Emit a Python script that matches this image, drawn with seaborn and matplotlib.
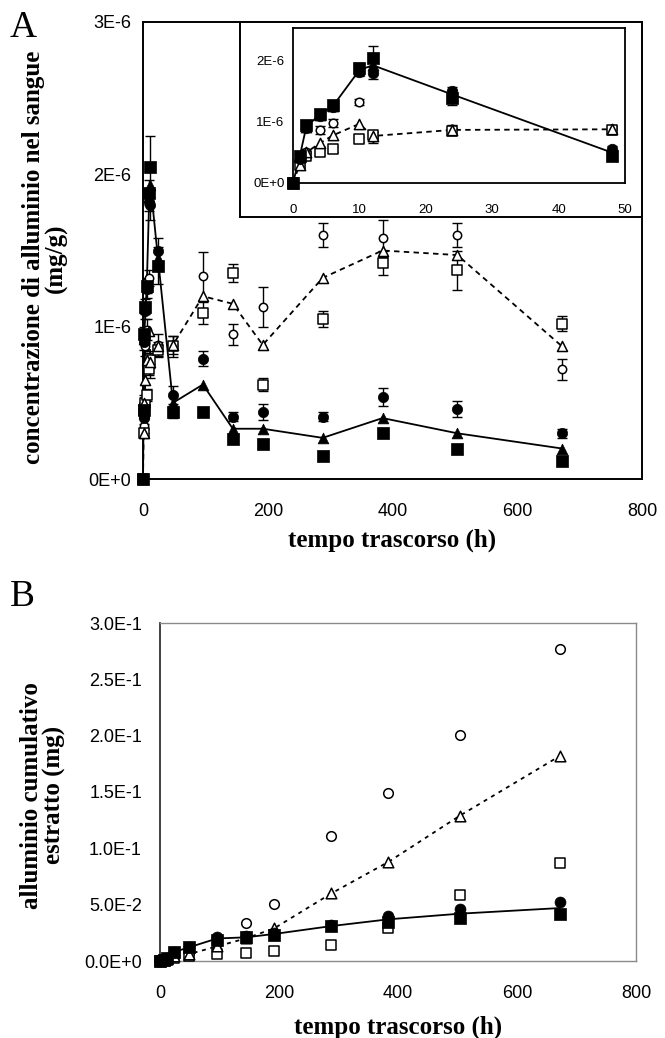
import matplotlib
matplotlib.use("Agg")
import matplotlib.pyplot as plt
import numpy as np
import seaborn as sns

# ---------------- data ----------------
# Panel A: blood aluminium concentration (values in units of 1E-6 mg/g)
time_A = [0, 1, 2, 4, 6, 10, 12, 24, 48, 96, 144, 192, 288, 384, 504, 672]
open_circle_A = [0, 0.35, 0.50, 0.87, 0.98, 1.32, 0.75, 0.88, 0.88, 1.33, 0.95, 1.13, 1.60, 1.58, 1.60, 0.72]
open_circle_A_err = [0.02, 0.05, 0.05, 0.06, 0.07, 0.05, 0.09, 0.07, 0.06, 0.16, 0.07, 0.13, 0.08, 0.12, 0.08, 0.07]
open_square_A = [0, 0.30, 0.45, 0.50, 0.55, 0.72, 0.78, 0.85, 0.87, 1.09, 1.35, 0.62, 1.05, 1.42, 1.37, 1.02]
open_square_A_err = [0.02, 0.03, 0.04, 0.04, 0.04, 0.04, 0.05, 0.05, 0.07, 0.07, 0.06, 0.04, 0.05, 0.08, 0.13, 0.05]
open_triangle_A = [0, 0.30, 0.50, 0.65, 0.78, 0.97, 0.77, 0.87, 0.88, 1.20, 1.15, 0.88, 1.32, 1.50, 1.47, 0.87]
filled_circle_A = [0, 0.40, 0.90, 1.10, 1.25, 1.82, 1.80, 1.50, 0.55, 0.79, 0.41, 0.44, 0.41, 0.54, 0.46, 0.30]
filled_circle_A_err = [0.02, 0.04, 0.05, 0.05, 0.06, 0.06, 0.10, 0.08, 0.06, 0.05, 0.03, 0.05, 0.03, 0.06, 0.05, 0.03]
filled_square_A = [0, 0.45, 0.95, 1.13, 1.27, 1.88, 2.05, 1.40, 0.44, 0.44, 0.26, 0.23, 0.15, 0.30, 0.20, 0.12]
filled_square_A_err = [0.02, 0.05, 0.05, 0.05, 0.05, 0.08, 0.20, 0.12, 0.04, 0.02, 0.02, 0.02, 0.02, 0.02, 0.02, 0.02]
filled_triangle_A = [0, 0.43, 0.92, 1.12, 1.26, 1.85, 1.93, 1.45, 0.50, 0.62, 0.33, 0.33, 0.27, 0.40, 0.30, 0.20]
unit_A = 1e-6

# Panel B: cumulative aluminium extracted (mg)
time_B = [0, 6, 12, 24, 48, 96, 144, 192, 288, 384, 504, 672]
open_circle_B = [0, 0.001, 0.002, 0.004, 0.007, 0.016, 0.034, 0.051, 0.111, 0.149, 0.201, 0.277]
open_triangle_B = [0, 0.001, 0.002, 0.004, 0.006, 0.013, 0.020, 0.029, 0.060, 0.088, 0.129, 0.182]
open_square_B = [0, 0.001, 0.001, 0.003, 0.004, 0.006, 0.007, 0.009, 0.014, 0.029, 0.059, 0.087]
filled_circle_B = [0, 0.001, 0.003, 0.008, 0.012, 0.021, 0.022, 0.025, 0.032, 0.040, 0.046, 0.052]
filled_square_B = [0, 0.001, 0.003, 0.008, 0.012, 0.019, 0.021, 0.023, 0.031, 0.035, 0.038, 0.042]
filled_triangle_B = [0, 0.001, 0.003, 0.008, 0.012, 0.020, 0.021, 0.024, 0.031, 0.037, 0.042, 0.047]

# ticks / labels
xticks_A = [0, 200, 400, 600, 800]
yticks_A = [0, 1e-6, 2e-6, 3e-6]
ytick_labels_A = ["0E+0", "1E-6", "2E-6", "3E-6"]
xticks_inset = [0, 10, 20, 30, 40, 50]
yticks_inset = [0, 1e-6, 2e-6]
ytick_labels_inset = ["0E+0", "1E-6", "2E-6"]
xticks_B = [0, 200, 400, 600, 800]
yticks_B = [0, 0.05, 0.10, 0.15, 0.20, 0.25, 0.30]
ytick_labels_B = ["0.0E+0", "5.0E-2", "1.0E-1", "1.5E-1", "2.0E-1", "2.5E-1", "3.0E-1"]

xlabel_text = "tempo trascorso (h)"
ylabel_A = "concentrazione di alluminio nel sangue\n(mg/g)"
ylabel_B = "alluminio cumulativo\nestratto (mg)"

# ---------------- style ----------------
sns.set_theme(style="white")
plt.rcParams["font.family"] = ["Liberation Sans", "DejaVu Sans"]
plt.rcParams["axes.edgecolor"] = "black"
plt.rcParams["xtick.color"] = "black"
plt.rcParams["ytick.color"] = "black"
plt.rcParams["text.color"] = "black"
plt.rcParams["axes.labelcolor"] = "black"

W, H = 665, 1038
fig = plt.figure(figsize=(W / 100, H / 100), dpi=100)
fig.patch.set_facecolor("white")


def fig_axes(x0, x1, ytop, ybot, **kw):
    return fig.add_axes([x0 / W, 1 - ybot / H, (x1 - x0) / W, (ybot - ytop) / H], **kw)


DASH = (0, (3.0, 2.4))


def draw_points(ax, t, y, marker, filled, s, err=None, scale=1.0, tmax=None, lw=1.1):
    t = np.asarray(t, float)
    y = np.asarray(y, float) * scale
    m = np.ones_like(t, bool) if tmax is None else (t <= tmax)
    if err is not None:
        e = np.asarray(err, float) * scale
        ax.errorbar(t[m], y[m], yerr=e[m], fmt="none", ecolor="black",
                    elinewidth=1.0, capsize=3.3, capthick=1.0, zorder=3, clip_on=False)
    sns.scatterplot(x=t[m], y=y[m], ax=ax, marker=marker, s=s,
                    color="black" if filled else "white", edgecolor="black",
                    linewidth=lw if not filled else 0.5, zorder=4, clip_on=False, legend=False)


def draw_line(ax, t, y, style, scale=1.0, tmax=None, lw=1.2):
    t = np.asarray(t, float)
    y = np.asarray(y, float) * scale
    m = np.ones_like(t, bool) if tmax is None else (t <= tmax)
    sns.lineplot(x=t[m], y=y[m], ax=ax, color="black", linewidth=lw, linestyle=style,
                 sort=False, legend=False, zorder=2, errorbar=None)


def panel_A_content(ax, tmax=None, big=1.0):
    draw_line(ax, time_A, open_triangle_A, DASH, unit_A, tmax, lw=1.3)
    draw_line(ax, time_A, filled_triangle_A, "-", unit_A, tmax, lw=1.3)
    draw_points(ax, time_A, open_circle_A, "o", False, 36 * big, open_circle_A_err, unit_A, tmax)
    draw_points(ax, time_A, open_square_A, "s", False, 48 * big, open_square_A_err, unit_A, tmax)
    draw_points(ax, time_A, open_triangle_A, "^", False, 52 * big, None, unit_A, tmax)
    draw_points(ax, time_A, filled_circle_A, "o", True, 55 * big, filled_circle_A_err, unit_A, tmax)
    draw_points(ax, time_A, filled_square_A, "s", True, 78 * big, filled_square_A_err, unit_A, tmax)
    draw_points(ax, time_A, filled_triangle_A, "^", True, 60 * big, None, unit_A, tmax)


# ---------------- Panel A ----------------
axA = fig_axes(143, 642, 22, 479)
panel_A_content(axA)
axA.set_xlim(0, 800)
axA.set_ylim(0, 3e-6)
axA.set_xticks(xticks_A)
axA.set_xticklabels([str(v) for v in xticks_A])
axA.set_yticks(yticks_A)
axA.set_yticklabels(ytick_labels_A)
for sp in axA.spines.values():
    sp.set_color("black")
    sp.set_linewidth(1.4)
axA.tick_params(axis="x", direction="inout", length=9, width=1.3, labelsize=13, pad=13)
axA.tick_params(axis="y", direction="inout", length=9, width=1.3, labelsize=13, pad=4)
axA.tick_params(top=False, right=False)
axA.set_xlabel(xlabel_text, fontsize=18, fontweight="bold", family="Liberation Serif", va="center")
axA.xaxis.set_label_coords(0.5, -0.134)
axA.set_ylabel(ylabel_A, fontsize=18, fontweight="bold", family="Liberation Serif",
               va="center", linespacing=0.95)
axA.yaxis.set_label_coords(-0.196, 0.484)
axA.set_facecolor("white")

# inset outer frame
frame = fig_axes(240, 642, 22, 217)
frame.set_xticks([])
frame.set_yticks([])
frame.set_facecolor("white")
for sp in frame.spines.values():
    sp.set_color("black")
    sp.set_linewidth(1.4)
frame.set_zorder(5)

# inset axes
axI = fig_axes(293, 625, 28, 183)
axI.set_zorder(6)
panel_A_content(axI, tmax=50, big=1.05)
axI.set_xlim(0, 50)
axI.set_ylim(0, 2.54e-6)
axI.set_xticks(xticks_inset)
axI.set_xticklabels([str(v) for v in xticks_inset])
axI.set_yticks(yticks_inset)
axI.set_yticklabels(ytick_labels_inset)
for sp in axI.spines.values():
    sp.set_color("black")
    sp.set_linewidth(1.3)
axI.tick_params(axis="x", direction="inout", length=8, width=1.2, labelsize=9.5, pad=11)
axI.tick_params(axis="y", direction="inout", length=8, width=1.2, labelsize=9.5, pad=2)
axI.set_facecolor("white")

fig.text(10 / W, 1 - 28 / H, "A", fontsize=27, family="Liberation Serif", va="center", ha="left")

# ---------------- Panel B ----------------
axB = fig_axes(160, 636, 623, 961)
draw_line(axB, time_B, open_triangle_B, (0, (2.2, 2.6)), lw=1.3)
draw_line(axB, time_B, filled_triangle_B, "-", lw=1.3)
draw_points(axB, time_B, open_circle_B, "o", False, 48)
draw_points(axB, time_B, open_square_B, "s", False, 58)
draw_points(axB, time_B, open_triangle_B, "^", False, 58)
draw_points(axB, time_B, filled_circle_B, "o", True, 62)
draw_points(axB, time_B, filled_square_B, "s", True, 66)
axB.set_xlim(0, 800)
axB.set_ylim(0, 0.3)
axB.set_xticks(xticks_B)
axB.set_xticklabels([str(v) for v in xticks_B])
axB.set_yticks(yticks_B)
axB.set_yticklabels(ytick_labels_B)
for name, sp in axB.spines.items():
    sp.set_color("#8a8a8a")
    sp.set_linewidth(1.0)
axB.spines["left"].set_color("#333333")
axB.spines["left"].set_linewidth(1.3)
axB.tick_params(axis="x", direction="in", length=3, width=0.8, color="#888888", labelsize=13, pad=17)
axB.tick_params(axis="y", direction="in", length=0, labelsize=13, pad=13)
axB.set_xlabel(xlabel_text, fontsize=18, fontweight="bold", family="Liberation Serif", va="center")
axB.xaxis.set_label_coords(0.5, -0.196)
axB.set_ylabel(ylabel_B, fontsize=18, fontweight="bold", family="Liberation Serif",
               va="center", linespacing=0.95)
axB.yaxis.set_label_coords(-0.246, 0.49)
axB.set_facecolor("white")

fig.text(10 / W, 1 - 597 / H, "B", fontsize=27, family="Liberation Serif", va="center", ha="left")

fig.savefig("out.png", dpi=100, facecolor="white")
